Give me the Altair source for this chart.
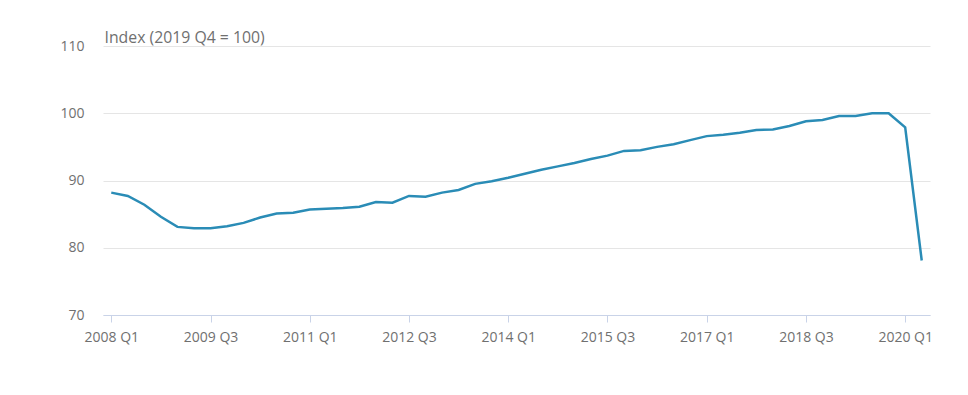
import altair as alt
import pandas as pd

quarters = [f"{y} Q{q}" for y in range(2008, 2021) for q in range(1, 5)][:50]

index_values = [
    88.2, 87.7, 86.4, 84.6, 83.1, 82.9, 82.9, 83.2, 83.7, 84.5,
    85.1, 85.2, 85.7, 85.8, 85.9, 86.1, 86.8, 86.7, 87.7, 87.6,
    88.2, 88.6, 89.5, 89.9, 90.4, 91.0, 91.6, 92.1, 92.6, 93.2,
    93.7, 94.4, 94.5, 95.0, 95.4, 96.0, 96.6, 96.8, 97.1, 97.5,
    97.6, 98.1, 98.8, 99.0, 99.6, 99.6, 100.0, 100.0, 97.9, 78.1,
]

tick_labels = ["2008 Q1", "2009 Q3", "2011 Q1", "2012 Q3", "2014 Q1",
               "2015 Q3", "2017 Q1", "2018 Q3", "2020 Q1"]
y_ticks = [70, 80, 90, 100, 110]

df = pd.DataFrame({"quarter": quarters, "value": index_values})

FONT = "Open Sans"
GREY = "#707070"

chart = alt.Chart(df).mark_line(color="#2a8cb6", strokeWidth=2.5).encode(
    x=alt.X(
        "quarter:O",
        sort=None,
        scale=alt.Scale(type="point", padding=0.5),
        axis=alt.Axis(
            values=tick_labels,
            title=None,
            labelAngle=0,
            labelFont=FONT,
            labelFontSize=14,
            labelColor=GREY,
            labelPadding=8,
            domainColor="#c9d3e8",
            tickColor="#c9d3e8",
            tickSize=7,
            grid=False,
        ),
    ),
    y=alt.Y(
        "value:Q",
        scale=alt.Scale(domain=[70, 110], nice=False, zero=False),
        axis=alt.Axis(
            values=y_ticks,
            title="Index (2019 Q4 = 100)",
            titleAngle=0,
            titleAlign="left",
            titleBaseline="alphabetic",
            titleX=1,
            titleY=-4,
            titleFont=FONT,
            titleFontSize=15.8,
            titleFontWeight="normal",
            titleColor=GREY,
            labelFont=FONT,
            labelFontSize=14,
            labelColor=GREY,
            labelPadding=19,
            ticks=False,
            domain=False,
            grid=True,
            gridColor="#e5e5e5",
        ),
    ),
).properties(
    width=827,
    height=269,
    autosize=alt.AutoSizeParams(type="none"),
    padding={"left": 95, "top": 38, "right": 30, "bottom": 40},
).configure_view(stroke=None)

chart.save("out.html", embed_options={"renderer": "svg", "actions": False})
